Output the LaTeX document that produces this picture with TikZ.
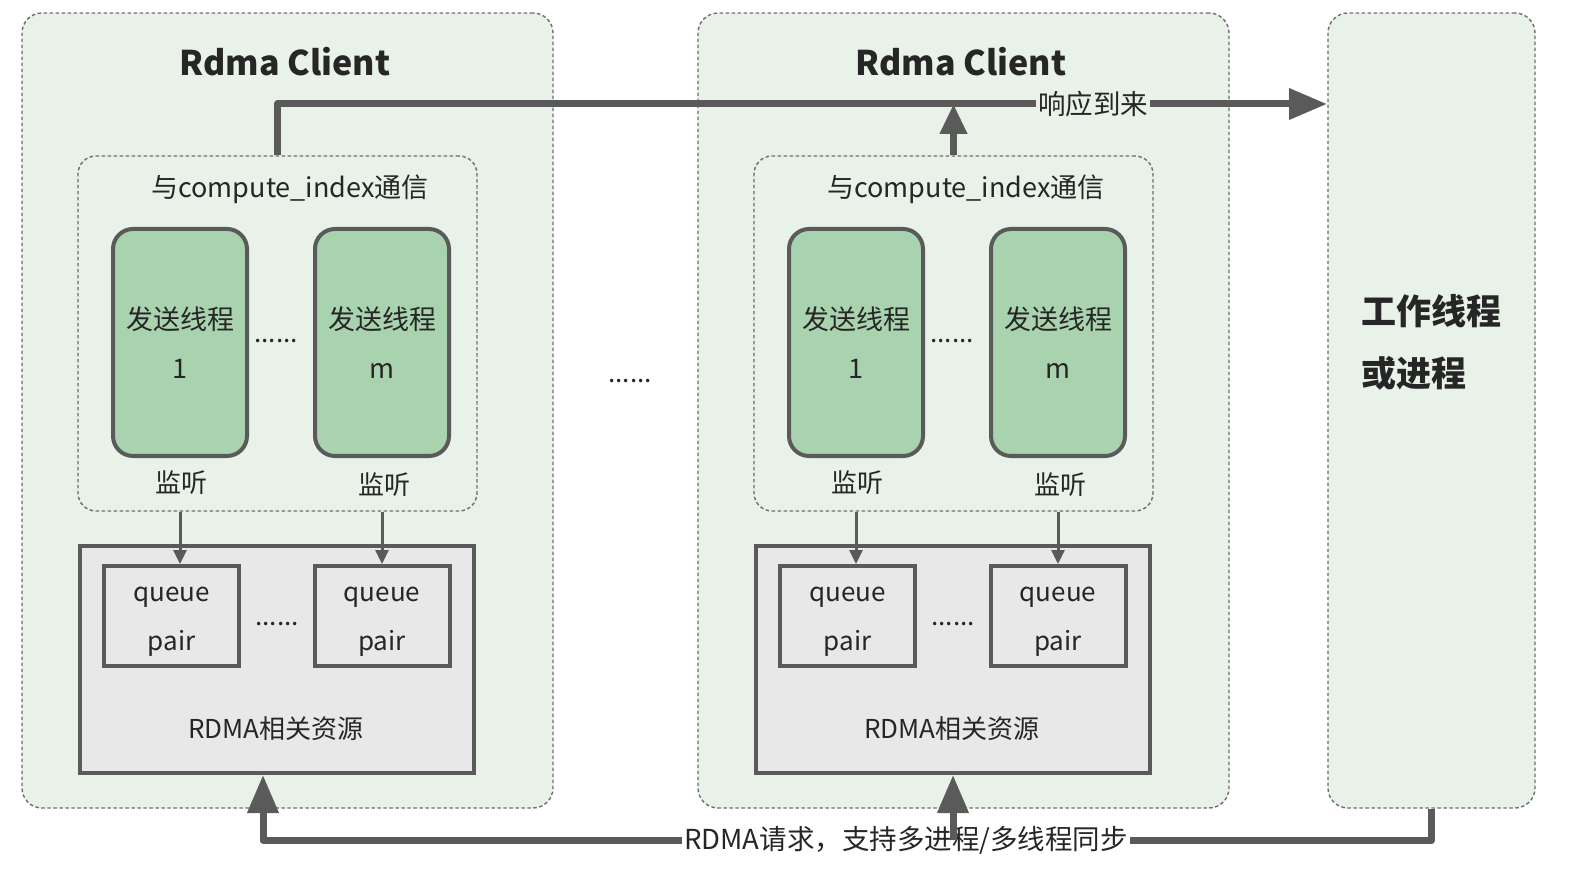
\documentclass[tikz,border=0pt]{standalone}
\usepackage{fontspec}
\setmainfont{Noto Sans CJK SC}
\usetikzlibrary{arrows.meta,calc}
\definecolor{outerfill}{HTML}{E8F2E9}
\definecolor{gfill}{HTML}{A9D3AF}
\definecolor{gline}{HTML}{5A5A5A}
\definecolor{rfill}{HTML}{E8E8E8}
\definecolor{dline}{HTML}{6E6E6E}
\definecolor{txt}{HTML}{262626}
\begin{document}
\begin{tikzpicture}[x=1pt,y=-1pt,
  every node/.style={text=txt, inner sep=0pt},
  outerbox/.style={draw=dline, line width=1.4pt, dash pattern=on 3.5pt off 2.5pt, fill=outerfill, rounded corners=20pt},
  innerbox/.style={draw=dline, line width=1.4pt, dash pattern=on 3.5pt off 2.5pt, rounded corners=18pt, minimum width=399pt, minimum height=355pt},
  sendbox/.style={draw=gline, line width=4pt, fill=gfill, rounded corners=20pt, minimum width=134pt, minimum height=227pt, align=center, font=\fontsize{27}{49}\selectfont},
  qpbox/.style={draw=gline, line width=4pt, fill=rfill, minimum width=135pt, minimum height=100pt},
  qptext/.style={align=center, font=\fontsize{26}{49}\selectfont},
  resbox/.style={draw=gline, line width=4pt, fill=rfill, minimum width=394pt, minimum height=227pt},
  lbl/.style={font=\fontsize{26}{30}\selectfont},
  dots/.style={font=\fontsize{26}{30}\selectfont, anchor=base},
  bigarrow/.style={draw=gline, line width=7pt, line join=round, -{Triangle[length=38pt,width=30pt]}},
  midarrow/.style={draw=gline, line width=7pt, -{Triangle[length=30pt,width=26pt]}},
  smallarrow/.style={draw=gline, line width=3pt, -{Triangle[length=14pt,width=13pt]}}
]
\useasboundingbox (0,0) rectangle (1572,874);

% outer boxes
\node[outerbox, minimum width=531pt, minimum height=795pt] (A-out) at (287.5,410.5) {};
\node[outerbox, minimum width=531pt, minimum height=795pt] (B-out) at (963.5,410.5) {};
\node[outerbox, minimum width=207pt, minimum height=795pt] (c3) at (1431.5,410.5) {};
\node[font=\fontsize{35}{62}\selectfont\bfseries, align=left, anchor=west] (c3-lbl) at (1361,342) {工作线程\\或进程};

\foreach \p/\dx in {A/0,B/676}{
  \node[font=\fontsize{34}{40}\selectfont\bfseries] (\p-title) at (285+\dx,62) {Rdma Client};
  \node[innerbox] (\p-in) at (277.5+\dx,333.5) {};
  \node[font=\fontsize{27}{30}\selectfont] (\p-inlbl) at (290+\dx,189) {与compute\_index通信};
  \node[sendbox] (\p-g1) at (180+\dx,342.5) {发送线程\\1};
  \node[sendbox] (\p-g2) at (382+\dx,342.5) {发送线程\\m};
  \node[dots] (\p-gdots) at (276+\dx,343) {......};
  \node[lbl] (\p-l1) at (181+\dx,483) {监听};
  \node[lbl] (\p-l2) at (384+\dx,485) {监听};
  \node[resbox] (\p-res) at (277+\dx,659.5) {};
  \node[qpbox] (\p-q1) at (171.5+\dx,616) {};
  \node[qpbox] (\p-q2) at (382+\dx,616) {};
  \node[qptext] (\p-q1t) at (171.5+\dx,622) {queue\\pair};
  \node[qptext] (\p-q2t) at (382+\dx,622) {queue\\pair};
  \node[dots] (\p-qdots) at (277+\dx,625) {......};
  \node[lbl] (\p-reslbl) at (276+\dx,729) {RDMA相关资源};
  \draw[smallarrow] (\p-g1.south |- \p-in.south) -- (\p-g1.south |- \p-q1.north);
  \draw[smallarrow] (\p-g2.south |- \p-in.south) -- (\p-g2.south |- \p-q2.north);
}
\node[dots] (middots) at (630,383) {......};

% response arrow
\coordinate (resp) at (1327,104);
\draw[bigarrow] (A-in.north) |- (resp);
\draw[midarrow] (B-in.north) -- (B-in.north |- resp);
\node[font=\fontsize{27.5}{30}\selectfont, fill=outerfill, inner xsep=2pt, inner ysep=4pt] (resplbl) at (1093,104) {响应到来};

% request arrow
\draw[bigarrow] (c3.south) -- ++(0,32) -| ($(A-res.south)+(-14,0)$);
\node[font=\fontsize{27.5}{30}\selectfont, fill=white, inner xsep=2pt, inner ysep=4pt] (reqlbl) at (906,840) {RDMA请求，支持多进程/多线程同步};
\draw[bigarrow] (B-res.south |- reqlbl.center) -- (B-res.south);
\end{tikzpicture}
\end{document}
